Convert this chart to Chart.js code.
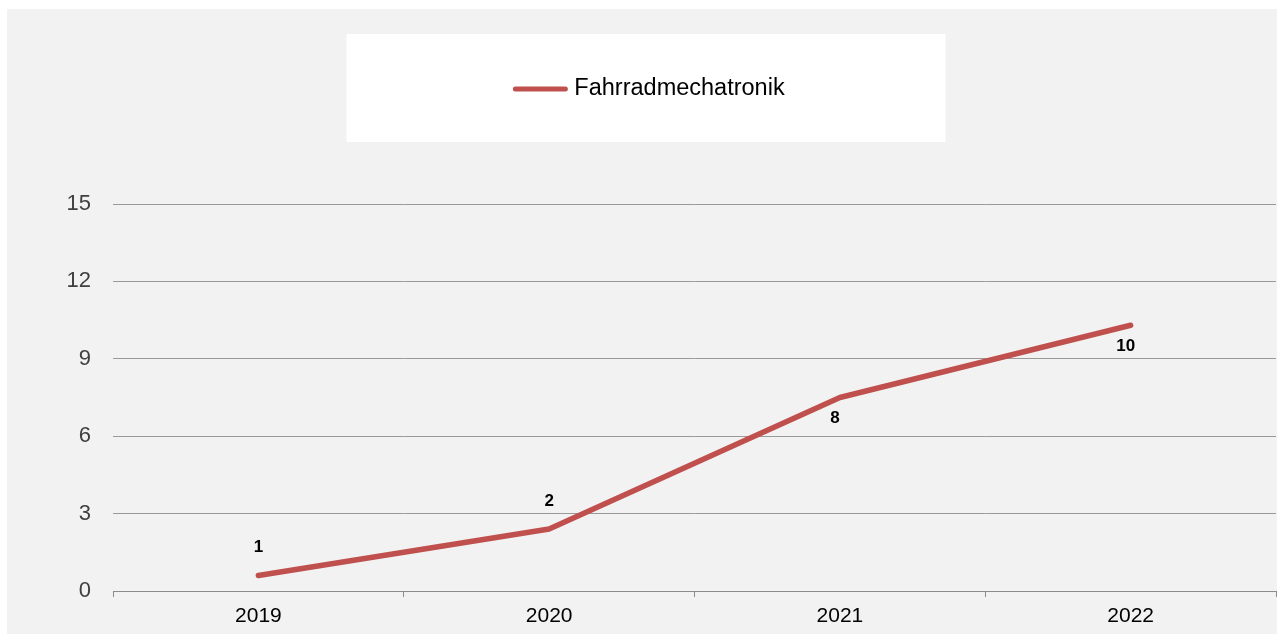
<!DOCTYPE html>
<html lang="de">
<head>
  <meta charset="UTF-8" />
  <title>Fahrradmechatronik</title>
  <script src="https://cdn.jsdelivr.net/npm/chart.js"></script>
  <style>
    html, body {
      margin: 0;
      padding: 0;
      background: #ffffff;
      overflow: hidden;
    }
    #wrap {
      position: absolute;
      left: 7px;
      top: 9px;
      width: 1270px;
      height: 625px;
      background: #f2f2f2;
    }
  </style>
</head>
<body>
  <div id="wrap">
    <canvas id="chart" width="1270" height="625"></canvas>
  </div>

  <script>
    const years = ['2019', '2020', '2021', '2022'];
    const values = [0.6, 2.4, 7.5, 10.3];
    const labelSide = ['above', 'above', 'below', 'below'];
    const seriesName = 'Fahrradmechatronik';
    const yTicks = [0, 3, 6, 9, 12, 15];

    const FONT = '"Liberation Sans", Arial, sans-serif';
    const RED = '#c0504d';

    // weisse Legendenbox oben + Eintrag
    const legendBox = {
      id: 'legendBox',
      beforeDraw(chart) {
        const ctx = chart.ctx;
        const boxW = 599, boxH = 108, boxTop = 25;
        const cx = chart.width / 2 + 4;
        ctx.save();
        ctx.fillStyle = '#ffffff';
        ctx.fillRect(cx - boxW / 2, boxTop, boxW, boxH);

        const ds = chart.data.datasets[0];
        ctx.font = '23.5px ' + FONT;
        const textW = ctx.measureText(ds.label).width;
        const lineW = 50, gap = 9;
        const total = lineW + gap + textW;
        const x0 = cx - total / 2 + 4;
        const y = boxTop + boxH / 2 + 1;
        ctx.strokeStyle = ds.borderColor;
        ctx.lineWidth = 5;
        ctx.lineCap = 'round';
        ctx.beginPath();
        ctx.moveTo(x0, y);
        ctx.lineTo(x0 + lineW, y);
        ctx.stroke();
        ctx.fillStyle = '#000000';
        ctx.textBaseline = 'middle';
        ctx.textAlign = 'left';
        ctx.fillText(ds.label, x0 + lineW + gap, y);
        ctx.restore();
      }
    };

    // Datenbeschriftungen (gerundete Werte)
    const valueLabels = {
      id: 'valueLabels',
      afterDatasetsDraw(chart) {
        const ctx = chart.ctx;
        const meta = chart.getDatasetMeta(0);
        ctx.save();
        ctx.font = 'bold 17px ' + FONT;
        ctx.fillStyle = '#000000';
        ctx.textAlign = 'center';
        ctx.textBaseline = 'middle';
        meta.data.forEach((pt, i) => {
          const txt = String(Math.round(values[i]));
          const dy = labelSide[i] === 'above' ? -28 : 21;
          const dx = labelSide[i] === 'above' ? 0 : -5;
          ctx.fillText(txt, pt.x + dx, pt.y + dy);
        });
        ctx.restore();
      }
    };

    const ctx = document.getElementById('chart').getContext('2d');
    new Chart(ctx, {
      type: 'line',
      data: {
        labels: years,
        datasets: [{
          label: seriesName,
          data: values,
          borderColor: RED,
          backgroundColor: RED,
          borderWidth: 5.5,
          borderCapStyle: 'round',
          borderJoinStyle: 'round',
          tension: 0,
          pointRadius: 0,
          fill: false
        }]
      },
      options: {
        responsive: false,
        animation: false,
        layout: {
          padding: { top: 195, right: 1, left: 0, bottom: 0 }
        },
        scales: {
          x: {
            type: 'category',
            offset: true,
            grid: {
              offset: true,
              drawOnChartArea: false,
              drawTicks: true,
              tickLength: 6,
              color: '#8c8c8c'
            },
            border: { display: true, color: '#8c8c8c', width: 1 },
            ticks: {
              color: '#000000',
              font: { family: FONT, size: 21 },
              padding: 7
            },
            afterFit(scale) { scale.height = 43; }
          },
          y: {
            min: 0,
            max: 15,
            afterBuildTicks(scale) {
              scale.ticks = yTicks.map(v => ({ value: v }));
            },
            grid: {
              color: '#999999',
              lineWidth: 1,
              drawTicks: false
            },
            border: { display: false },
            ticks: {
              color: '#404040',
              font: { family: FONT, size: 22 },
              padding: 22
            },
            afterFit(scale) { scale.width = 106; }
          }
        },
        plugins: {
          legend: { display: false },
          tooltip: { enabled: false }
        }
      },
      plugins: [legendBox, valueLabels]
    });
  </script>
</body>
</html>
